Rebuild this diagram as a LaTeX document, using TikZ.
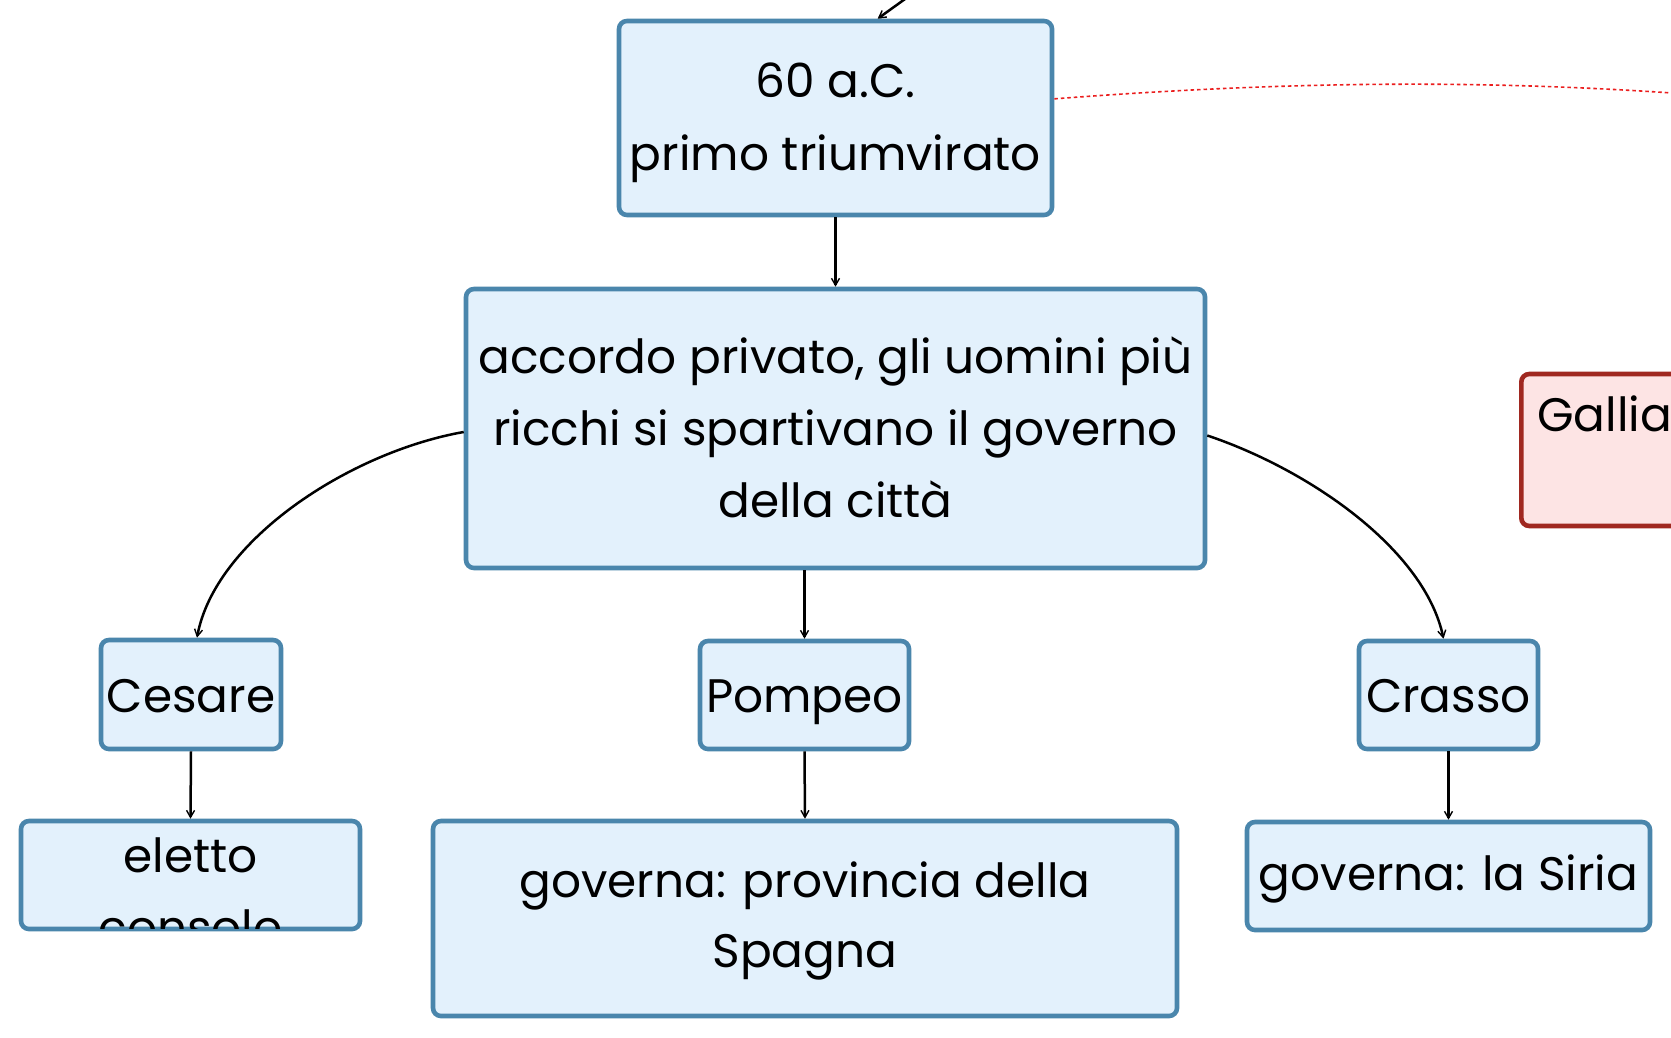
\documentclass[tikz,border=0pt]{standalone}
\usepackage{fontspec}
\setmainfont{Poppins}
\usetikzlibrary{arrows.meta}
\definecolor{bxb}{RGB}{74,134,172}
\definecolor{bxf}{RGB}{227,241,252}
\definecolor{gxb}{RGB}{160,40,32}
\definecolor{gxf}{RGB}{253,228,228}
\definecolor{dotred}{RGB}{235,30,30}
\begin{document}
\begin{tikzpicture}[x=1pt,y=-1pt,
  bluebox/.style={draw=bxb, fill=bxf, line width=4.6pt, rounded corners=8pt, inner sep=0pt},
  redbox/.style={draw=gxb, fill=gxf, line width=4.6pt, rounded corners=8pt, inner sep=0pt},
  txt/.style={inner sep=0pt, align=center, anchor=base, font=\fontsize{47}{72}\selectfont},
  conn/.style={-{Straight Barb[length=7pt,width=8pt,line width=1.4pt]}, line width=2.5pt, black}
]
\useasboundingbox (0,0) rectangle (1671,1038);
\clip (0,0) rectangle (1671,1038);
\fill[white] (0,0) rectangle (1671,1038);

\node[bluebox, minimum width=433pt, minimum height=194pt] (A) at (835.5,118) {};
\node[txt, font=\fontsize{47}{73}\selectfont] (At) at (835.5,171) {60 a.C.\\primo triumvirato};
\node[bluebox, minimum width=739pt, minimum height=279pt] (B) at (835.5,428.5) {};
\node[txt, font=\fontsize{47}{72}\selectfont] (Bt) at (835.5,517) {accordo privato, gli uomini più\\ricchi si spartivano il governo\\della città};
\node[bluebox, minimum width=180pt, minimum height=109pt] (C) at (191,694.5) {};
\node[txt] (Ct) at (191,712) {Cesare};
\node[bluebox, minimum width=209pt, minimum height=108pt] (P) at (804.5,695) {};
\node[txt] (Pt) at (804.5,712) {Pompeo};
\node[bluebox, minimum width=179pt, minimum height=108pt] (K) at (1448.5,695) {};
\node[txt] (Kt) at (1448.5,712) {Crasso};
\node[bluebox, minimum width=339pt, minimum height=108pt] (E) at (190.5,875) {};
\begin{scope}
  \clip (21,821) rectangle (360,928);
  \node[txt] (Et) at (190.5,944) {eletto\\console};
\end{scope}
\node[bluebox, minimum width=744pt, minimum height=195pt] (S) at (805,918.5) {};
\node[txt, font=\fontsize{47}{69.5}\selectfont] (St) at (805,967) {governa: provincia della\\Spagna};
\node[bluebox, minimum width=403pt, minimum height=108pt] (R) at (1448.5,876) {};
\node[txt] (Rt) at (1448.5,890) {governa: la Siria};
\node[redbox, minimum width=300pt, minimum height=152pt, anchor=west] (G) at (1519,450) {};
\node[txt, anchor=base west] (Gt) at (1537,431) {Gallia};

\coordinate (topin) at (912,-6);
\coordinate (dotend) at (1700,95);
\draw[conn] (topin) -- (A.67);
\draw[dotred, line width=1.6pt, dash pattern=on 3.5pt off 3pt] (A.5) .. controls (1300,80) and (1500,80) .. (dotend);
\draw[conn] (A.south) -- (B.north);
\draw[conn] (P.north |- B.south) -- (P.north);
\draw[conn] ([yshift=-3.5pt]B.west) .. controls (350,452) and (215,540) .. ([xshift=6pt]C.north);
\draw[conn] ([yshift=-7pt]B.east) .. controls (1310,470) and (1425,550) .. ([xshift=-5pt]K.north);
\draw[conn] (C.south) -- (E.north);
\draw[conn] (P.south) -- (S.north);
\draw[conn] (K.south) -- (R.north);
\end{tikzpicture}
\end{document}
